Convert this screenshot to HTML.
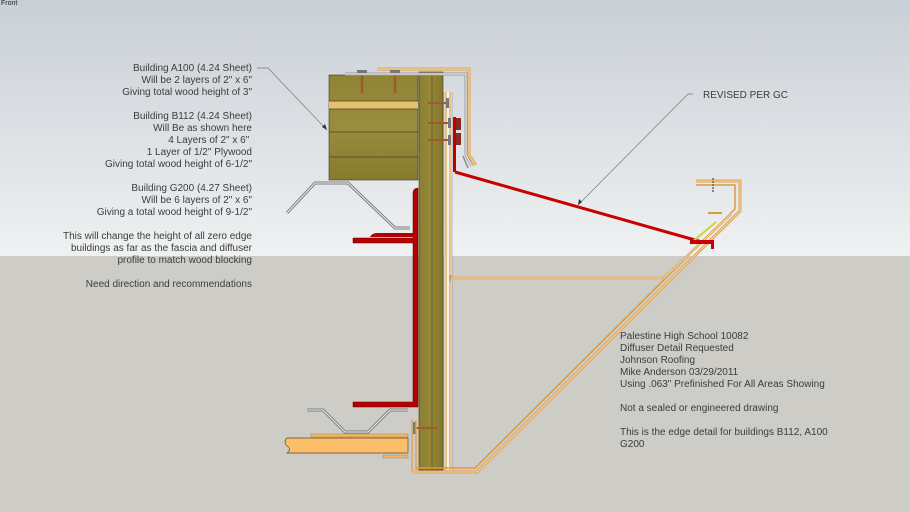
<!DOCTYPE html>
<html><head><meta charset="utf-8"><style>
html,body{margin:0;padding:0;}
body{width:910px;height:512px;overflow:hidden;position:relative;font-family:"Liberation Sans",sans-serif;}
#bg{position:absolute;left:0;top:0;width:910px;height:512px;}
.t{position:absolute;font-size:10px;color:#3c3c3c;line-height:12px;white-space:pre;}
.l{right:658px;text-align:right;}
</style></head><body>
<svg id="bg" width="910" height="512" viewBox="0 0 910 512" xmlns="http://www.w3.org/2000/svg">
<defs>
<linearGradient id="sky" x1="0" y1="0" x2="0" y2="1">
<stop offset="0" stop-color="#c9cfd6"/><stop offset="1" stop-color="#eff1f2"/>
</linearGradient>
<linearGradient id="wood" x1="0" y1="0" x2="1" y2="0">
<stop offset="0" stop-color="#8c7f30"/><stop offset="0.5" stop-color="#95883a"/><stop offset="1" stop-color="#857629"/>
</linearGradient>
<linearGradient id="woodv" x1="0" y1="0" x2="0" y2="1">
<stop offset="0" stop-color="#8f8334"/><stop offset="0.5" stop-color="#988c3f"/><stop offset="1" stop-color="#877a2c"/>
</linearGradient>
</defs>
<rect x="0" y="0" width="910" height="256" fill="url(#sky)"/>
<rect x="0" y="256" width="910" height="256" fill="#cdccc6"/>

<!-- upper wood block -->
<rect x="329" y="75" width="89" height="105" fill="url(#woodv)" stroke="#3d3a1c" stroke-width="0.6"/>
<rect x="329" y="101" width="89" height="8" fill="#e3c06a"/>
<g stroke="#4a4522" stroke-width="0.7">
<line x1="329" y1="101" x2="418" y2="101"/><line x1="329" y1="109" x2="418" y2="109"/>
<line x1="329" y1="132" x2="418" y2="132"/><line x1="329" y1="157" x2="418" y2="157"/>
</g>
<g stroke="#a0582e" stroke-width="2.4"><line x1="362" y1="74" x2="362" y2="93"/><line x1="395" y1="74" x2="395" y2="93"/></g>

<!-- column -->
<rect x="419" y="72" width="24" height="398" fill="url(#wood)" stroke="#3d3a1c" stroke-width="0.6"/>
<line x1="432" y1="72" x2="432" y2="470" stroke="#5a5220" stroke-width="0.8"/>
<rect x="444" y="92" width="8" height="378" fill="#f2f2f0"/>
<g stroke="#e7a64a" stroke-width="1.3"><line x1="446" y1="92" x2="446" y2="470"/><line x1="450" y1="92" x2="450" y2="470"/></g>
<g stroke="#8a8a8a" stroke-width="0.6"><line x1="444" y1="92" x2="444" y2="470"/><line x1="452" y1="92" x2="452" y2="470"/></g>

<!-- top cap flashing -->
<polyline points="345,74 466,74 466,155 472,166" fill="none" stroke="#9a9a9a" stroke-width="3"/>
<polyline points="345,74 466,74 466,155 472,166" fill="none" stroke="#f4f4f4" stroke-width="1"/>
<polyline points="377,69 469,69 469,155 476,165" fill="none" stroke="#e3a24c" stroke-width="3"/>
<polyline points="377,69 469,69 469,155 476,165" fill="none" stroke="#f6dcb0" stroke-width="1"/>
<polyline points="463,156 468,168" fill="none" stroke="#8a8a8a" stroke-width="1.5"/>
<g fill="#777"><rect x="357" y="70" width="10" height="3"/><rect x="390" y="70" width="10" height="3"/></g>

<g stroke="#a0582e" stroke-width="2"><line x1="428" y1="103" x2="446" y2="103"/><line x1="428" y1="123" x2="448" y2="123"/><line x1="428" y1="140" x2="448" y2="140"/><line x1="415" y1="428" x2="437" y2="428"/></g>
<g fill="#777"><rect x="446" y="98" width="3" height="10"/><rect x="448" y="118" width="3" height="10"/><rect x="448" y="135" width="3" height="10"/><rect x="413" y="422" width="3" height="12"/></g>

<!-- red fascia clip right -->
<rect x="453" y="117" width="3" height="55" fill="#c00000"/>
<rect x="456" y="118" width="5" height="12" fill="#8a2a1a"/>
<rect x="456" y="133" width="5" height="12" fill="#8a2a1a"/>
<line x1="455" y1="172" x2="702" y2="242" stroke="#c80000" stroke-width="3"/>

<!-- red cleat left -->
<path d="M413,193 Q413,188 418,188 L418,407 L353,407 L353,402 L413,402 L413,243 L353,243 L353,238 L413,238 Z" fill="#b80000" stroke="#5a0000" stroke-width="0.5"/>
<path d="M370,237 Q372,233 377,233 L413,233 L413,237 Z" fill="#b80000"/>

<!-- upper gray flashing -->
<polyline points="287,213 315,183 348,183 395,228 410,228" fill="none" stroke="#7c7c7c" stroke-width="3"/>
<polyline points="287,213 315,183 348,183 395,228 410,228" fill="none" stroke="#f0f0f0" stroke-width="1"/>

<!-- lower gray flashing -->
<polyline points="307,410 323,410 345,432 368,432 390,410 408,410" fill="none" stroke="#7c7c7c" stroke-width="3"/>
<polyline points="307,410 323,410 345,432 368,432 390,410 408,410" fill="none" stroke="#f0f0f0" stroke-width="1"/>

<!-- bottom plank -->
<path d="M287,438 L408,438 L408,453 L287,453 Q292,449 287,446 Q283,442 287,438 Z" fill="#fbbf6a" stroke="#5a4a2a" stroke-width="0.7"/>
<rect x="311" y="434" width="97" height="3" fill="#f5b860" stroke="#776" stroke-width="0.4"/>
<rect x="383" y="455" width="25" height="3" fill="#f5b860" stroke="#776" stroke-width="0.4"/>

<g stroke="#e3a24c" stroke-width="1.4"><line x1="412" y1="420" x2="412" y2="472"/><line x1="416" y1="420" x2="416" y2="470"/></g>

<!-- base & long diagonal -->
<polyline points="412,472 477,472 740,211 740,181 696,181" fill="none" stroke="#e3a24c" stroke-width="3"/>
<polyline points="412,472 477,472 740,211 740,181 696,181" fill="none" stroke="#f8e4c0" stroke-width="0.8"/>
<polyline points="416,468 475,468 735,209 735,185 696,185" fill="none" stroke="#d99a44" stroke-width="1.5"/>
<line x1="713" y1="178" x2="713" y2="192" stroke="#666" stroke-width="1.5" stroke-dasharray="2,1"/>
<polyline points="450,278 664,278 731,214" fill="none" stroke="#e3a24c" stroke-width="2.5"/>
<polyline points="450,278 664,278 731,214" fill="none" stroke="#f8e4c0" stroke-width="0.7"/>
<polyline points="452,276 450,276 450,282" fill="none" stroke="#555" stroke-width="0.6"/>
<line x1="690" y1="244" x2="716" y2="222" stroke="#c8d63a" stroke-width="2"/>
<line x1="708" y1="213" x2="722" y2="213" stroke="#d99a44" stroke-width="2"/>
<path d="M690,240 L714,240 L714,249 L711,249 L711,244 L690,244 Z" fill="#c80000"/>

<!-- leader lines -->
<polyline points="257,68 268,68 327,130" fill="none" stroke="#7a7a7a" stroke-width="0.7"/>
<path d="M327,130 L322,127 L325,124 Z" fill="#333"/>
<polyline points="693,94 688,94 578,205" fill="none" stroke="#7a7a7a" stroke-width="0.7"/>
<path d="M578,205 L579,199 L582,202 Z" fill="#333"/>
</svg>

<div class="t" style="left:1px;top:0px;font-size:7px;line-height:8px;color:#222;">Front</div>

<div class="t l" style="top:63px;">Building A100 (4.24 Sheet)
Will be 2 layers of 2" x 6"
Giving total wood height of 3"

Building B112 (4.24 Sheet)
Will Be as shown here
4 Layers of 2" x 6" 
1 Layer of 1/2" Plywood
Giving total wood height of 6-1/2"

Building G200 (4.27 Sheet)
Will be 6 layers of 2" x 6"
Giving a total wood height of 9-1/2"

This will change the height of all zero edge
buildings as far as the fascia and diffuser
profile to match wood blocking

Need direction and recommendations</div>

<div class="t" style="left:703px;top:90px;">REVISED PER GC</div>

<div class="t" style="left:620px;top:331px;">Palestine High School 10082
Diffuser Detail Requested
Johnson Roofing
Mike Anderson 03/29/2011
Using .063" Prefinished For All Areas Showing

Not a sealed or engineered drawing

This is the edge detail for buildings B112, A100
G200</div>
</body></html>
